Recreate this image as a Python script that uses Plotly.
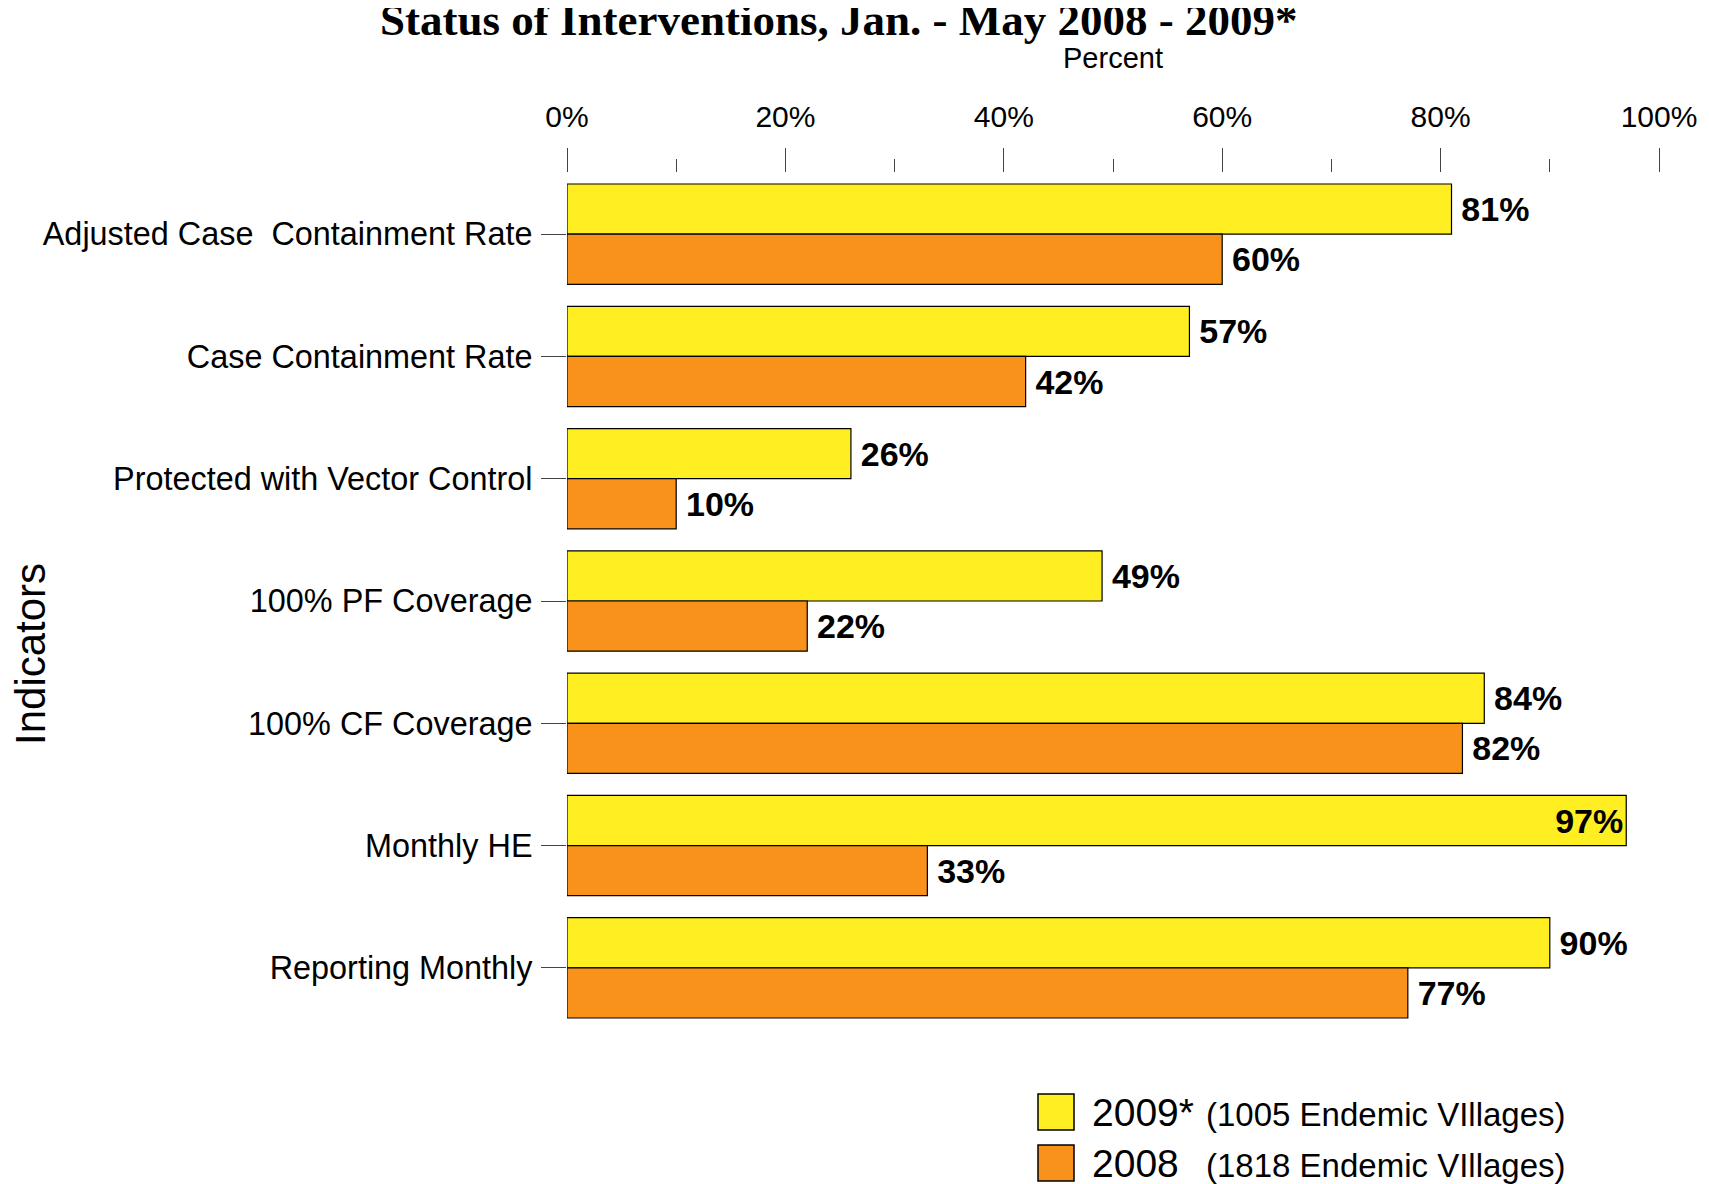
import plotly.graph_objects as go

# --- data ---
categories = [
    "Adjusted Case\u00a0 Containment Rate",
    "Case Containment Rate",
    "Protected with Vector Control",
    "100% PF Coverage",
    "100% CF Coverage",
    "Monthly HE",
    "Reporting Monthly",
]
pct_2009 = [81, 57, 26, 49, 84, 97, 90]
pct_2008 = [60, 42, 10, 22, 82, 33, 77]

series_names = ["2009*", "2008"]
series_notes = ["(1005 Endemic VIllages)", "(1818 Endemic VIllages)"]
series_colors = ["#FFEE22", "#F8921A"]

x_ticks = [0, 20, 40, 60, 80, 100]
x_ticktext = ["0%", "20%", "40%", "60%", "80%", "100%"]

# page has an 8px body margin, so the figure is a bit smaller than the window
OFF = 8
W, H = 1701, 1176
ML, MR, MT, MB = 559, 50, 165, 155
PW, PH = W - ML - MR, H - MT - MB


def px_x(px):
    # page pixel -> paper x
    return (px - OFF - ML) / PW


def px_y(py):
    # page pixel -> paper y
    return (H - MB - (py - OFF)) / PH


fig = go.Figure()
for name, vals, col in zip(series_names, [pct_2009, pct_2008], series_colors):
    fig.add_trace(go.Bar(
        y=categories,
        x=vals,
        orientation="h",
        name=name,
        marker=dict(color=col, line=dict(color="black", width=1.2)),
        text=[f"<b>\u2009{v}%</b>" for v in vals],
        texttemplate="%{text}",
        textposition=["inside" if v > 95 else "outside" for v in vals],
        insidetextanchor="end",
        textfont=dict(family="Liberation Sans, Arial", size=34, color="black"),
        cliponaxis=False,
        showlegend=False,
    ))

fig.update_layout(
    width=W, height=H,
    margin=dict(l=ML, r=MR, t=MT, b=MB, autoexpand=False),
    barmode="group",
    bargap=0.18,
    bargroupgap=0,
    plot_bgcolor="white",
    paper_bgcolor="white",
    font=dict(family="Liberation Sans, Arial", color="black"),
)

fig.update_xaxes(
    side="top",
    range=[0, 100],
    tickvals=x_ticks,
    ticktext=x_ticktext,
    ticks="outside",
    ticklen=24,
    tickwidth=1,
    tickcolor="#444",
    ticklabelstandoff=9,
    tickfont=dict(size=30),
    minor=dict(dtick=10, ticks="outside", ticklen=13, tickcolor="#444", tickwidth=1, showgrid=False),
    showgrid=False,
    showline=False,
    zeroline=False,
    automargin=False,
    title=dict(text="Percent", font=dict(size=29), standoff=22),
)
fig.update_yaxes(
    autorange="reversed",
    ticks="outside",
    ticklen=25,
    tickwidth=1,
    tickcolor="#444",
    ticklabelstandoff=2,
    tickfont=dict(size=32.4),
    showgrid=False,
    showline=False,
    zeroline=False,
    automargin=False,
)

# title, partly clipped at the top edge as in the reference
fig.add_annotation(
    text="<b>Status of Interventions, Jan. - May 2008 - 2009*</b>",
    xref="paper", yref="paper", x=px_x(839), y=px_y(20),
    xanchor="center", yanchor="middle", showarrow=False,
    font=dict(family="Liberation Serif, Times New Roman", size=45, color="black"),
)

# y axis title
fig.add_annotation(
    text="Indicators", textangle=-90,
    xref="paper", yref="paper", x=px_x(30), y=px_y(654),
    xanchor="center", yanchor="middle", showarrow=False,
    font=dict(size=42, color="black"),
)

# legend drawn below the plot
leg_rows = [1112, 1163]
for name, note, col, cy in zip(series_names, series_notes, series_colors, leg_rows):
    fig.add_shape(
        type="rect", xref="paper", yref="paper",
        x0=px_x(1038), x1=px_x(1074), y0=px_y(cy + 18), y1=px_y(cy - 18),
        fillcolor=col, line=dict(color="black", width=1.5),
    )
    fig.add_annotation(
        text=name, xref="paper", yref="paper", x=px_x(1090), y=px_y(cy),
        xanchor="left", yanchor="middle", showarrow=False,
        font=dict(size=39, color="black"),
    )
    fig.add_annotation(
        text=note, xref="paper", yref="paper", x=px_x(1204), y=px_y(cy + 2),
        xanchor="left", yanchor="middle", showarrow=False,
        font=dict(size=33, color="black"),
    )

fig.write_html("out.html")
